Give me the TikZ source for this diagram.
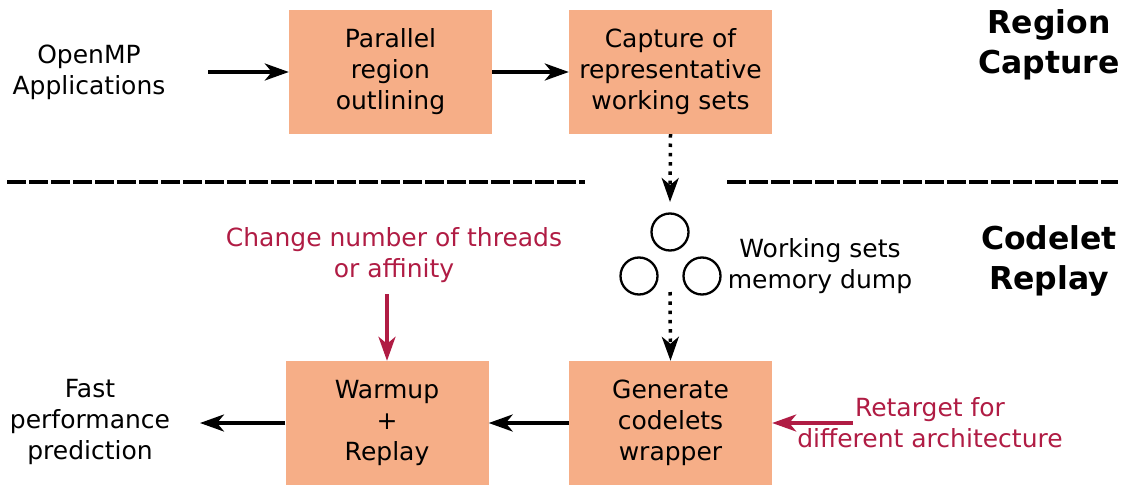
\documentclass[tikz,border=0pt]{standalone}
\usepackage{fontspec}
\setmainfont{DejaVu Sans}
\usetikzlibrary{arrows.meta}
\definecolor{boxfill}{RGB}{246,174,135}
\definecolor{tweak}{RGB}{176,28,68}
\tikzset{
  stage/.style={fill=boxfill, draw=none, minimum width=203pt, minimum height=124pt,
    align=center, font=\fontsize{25}{31}\selectfont, inner sep=0pt},
  label/.style={align=center, font=\fontsize{25}{31}\selectfont, inner sep=0pt},
  phase/.style={align=center, font=\fontsize{31.5}{40}\selectfont\bfseries, inner sep=0pt},
  tip/.style={-{Stealth[length=24pt,width=17pt,inset=7pt]}},
  flow/.style={line width=3.5pt, tip},
  dumpflow/.style={line width=3.5pt, dash pattern=on 3.5pt off 5.8pt, tip},
  tweakflow/.style={flow, draw=tweak, color=tweak},
  setdot/.style={circle, draw, line width=2.3pt, minimum size=37pt, inner sep=0pt},
  separator/.style={line width=4pt, dash pattern=on 19pt off 3pt},
}
\begin{document}
\begin{tikzpicture}[x=1pt, y=-1pt]
\useasboundingbox (0,0) rectangle (1126,487);

% processing stages
\node[stage] (outline) at (390.5,72) {Parallel\\region\\outlining};
\node[stage] (capture) at (670.5,72) {Capture of\\representative\\working sets};
\node[stage] (replay) at (387,423) {Warmup\\+\\Replay};
\node[stage] (wrapper) at (670.5,423) {Generate\\codelets\\wrapper};

% plain labels
\node[label] (apps) at (89,72) {OpenMP\\Applications};
\node[label] (predict) at (90,422) {Fast\\performance\\prediction};
\node[label] (dumptxt) at (820,266) {Working sets\\memory dump};
\node[label, text=tweak] (threads) at (394,255) {Change number of threads\\or affinity};
\node[label, text=tweak] (retarget) at (930,423) {Retarget for\\different architecture};

% phase titles
\node[phase] (capphase) at (1049,45) {Region\\Capture};
\node[phase] (repphase) at (1049,261) {Codelet\\Replay};

% phase separator
\coordinate (sepA1) at (7,182);
\coordinate (sepA2) at (585,182);
\coordinate (sepB1) at (727,182);
\coordinate (sepB2) at (1118,182);
\draw[separator] (sepA1) -- (sepA2);
\draw[separator] (sepB1) -- (sepB2);

% memory dump sets
\node[setdot] (setA) at (670,232) {};
\node[setdot] (setB) at (639,276) {};
\node[setdot] (setC) at (702,276) {};

% connectors
\coordinate (appsR) at (208,72);
\coordinate (predL) at (200,423);
\coordinate (dumpIn) at (670,202);
\coordinate (dumpOut) at (670,292);
\coordinate (threadsB) at (387,294);
\coordinate (retargetL) at (853,423);

\draw[flow] (appsR) -- (outline.west);
\draw[flow] (outline.east) -- (capture.west);
\draw[dumpflow] (capture.south) -- (dumpIn);
\draw[dumpflow] (dumpOut) -- (wrapper.north);
\draw[flow] (wrapper.west) -- (replay.east);
\draw[flow] (replay.west) -- (predL);
\draw[tweakflow] (threadsB) -- (replay.north);
\draw[tweakflow] (retargetL) -- (wrapper.east);
\end{tikzpicture}
\end{document}
